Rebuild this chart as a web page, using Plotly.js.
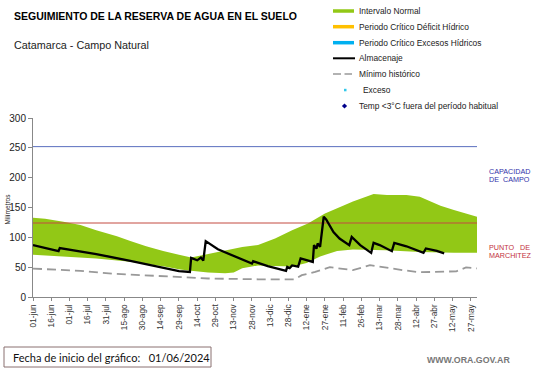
<!DOCTYPE html>
<html>
<head>
<meta charset="utf-8">
<script src="https://cdn.plot.ly/plotly-3.0.1.min.js"></script>
<style>html,body{margin:0;padding:0;background:#fff;}#chart{width:541px;height:368px;}</style>
</head>
<body>
<div id="chart"></div>
<script>
// ---- data ----
const tickDates = ['2024-06-01','2024-06-16','2024-07-01','2024-07-16','2024-07-31','2024-08-15','2024-08-30','2024-09-14','2024-09-29','2024-10-14','2024-10-29','2024-11-13','2024-11-28','2024-12-13','2024-12-28','2025-01-12','2025-01-27','2025-02-11','2025-02-26','2025-03-13','2025-03-28','2025-04-12','2025-04-27','2025-05-12','2025-05-27'];
const tickLabels = ['01-jun','16-jun','01-jul','16-jul','31-jul','15-ago','30-ago','14-sep','29-sep','14-oct','29-oct','13-nov','28-nov','13-dic','28-dic','12-ene','27-ene','11-feb','26-feb','13-mar','28-mar','12-abr','27-abr','12-may','27-may'];

const upperDates = ['2024-06-01','2024-06-11','2024-06-26','2024-07-10','2024-07-23','2024-08-09','2024-08-20','2024-09-02','2024-09-16','2024-09-30','2024-10-09','2024-10-23','2024-11-06','2024-11-20','2024-12-03','2024-12-17','2024-12-31','2025-01-13','2025-01-27','2025-02-06','2025-02-19','2025-03-08','2025-03-19','2025-04-04','2025-04-15','2025-04-23','2025-05-02','2025-05-13','2025-06-01'];
const upperVals  = [133,131,126,120.5,112,102,94,85,77,70,66,72,78.5,84,87,98,112,123,140,148.6,160,172.6,171,171,168,161,153,146,134.5];

const lowerDates = ['2024-06-01','2024-06-26','2024-07-23','2024-08-20','2024-09-16','2024-09-30','2024-10-09','2024-10-23','2024-11-06','2024-11-13','2024-11-20','2024-12-03','2024-12-17','2024-12-31','2025-01-12','2025-01-23','2025-02-06','2025-02-19','2025-03-18','2025-04-15','2025-05-13','2025-06-01'];
const lowerVals  = [71,68,64.5,59,51.6,46,44,41,40,41,48,53,52,51,57,68,77,79.6,78.5,75.6,74,74];

const minDates = ['2024-06-01','2024-07-10','2024-08-06','2024-09-02','2024-09-30','2024-10-23','2024-12-03','2025-01-02','2025-01-08','2025-01-19','2025-01-31','2025-02-14','2025-02-19','2025-03-05','2025-03-21','2025-04-01','2025-04-15','2025-05-07','2025-05-15','2025-05-23','2025-06-01'];
const minVals  = [47.7,43.7,39,36.5,33.6,31,29.7,29.7,36.5,42,50,46.5,45,53.3,48,45,41.5,42,43,49.5,48];

const almDates = ['2024-06-01','2024-06-22','2024-06-23','2024-07-23','2024-08-20','2024-09-16','2024-09-29','2024-10-08','2024-10-09','2024-10-14','2024-10-17','2024-10-19','2024-10-21','2024-10-31','2024-11-14','2024-11-28','2024-11-29','2024-12-11','2024-12-26','2024-12-27','2024-12-29','2024-12-31','2025-01-05','2025-01-07','2025-01-17','2025-01-18','2025-01-20','2025-01-21','2025-01-23','2025-01-26','2025-01-28','2025-02-03','2025-02-08','2025-02-16','2025-02-18','2025-02-25','2025-03-06','2025-03-08','2025-03-13','2025-03-23','2025-03-25','2025-04-04','2025-04-18','2025-04-20','2025-04-29','2025-05-05'];
const almVals  = [87,77,82,72,60.5,49.4,43.5,42,65.5,61.5,66,61,93.6,80,68.4,56,60,51.6,43.7,50.4,48.5,53,51,64.5,58.8,86.9,81,89.6,84,134.5,130,109,98,87,100.8,87,74,90.8,87,76.8,90.8,85,74,81.3,77.3,73];

const capacidadCampo = 252;
const puntoMarchitez = 124;
const xStart = '2024-06-01', xEnd = '2025-06-01';

// ---- helpers for page-position annotations ----
const L = 33, R = 477, T = 118, B = 297;
const px = x => (x - L) / (R - L);
const py = y => (B - y) / (B - T);

const GREEN = 'rgb(146,200,22)';

const traces = [
  { x: upperDates.concat(lowerDates.slice().reverse()),
    y: upperVals.concat(lowerVals.slice().reverse()),
    type: 'scatter', mode: 'lines', fill: 'toself', fillcolor: GREEN,
    line: {width: 0, color: GREEN}, hoverinfo: 'skip', name: 'Intervalo Normal' },
  { x: [xStart, xEnd], y: [capacidadCampo, capacidadCampo], type: 'scatter', mode: 'lines',
    line: {color: 'rgb(90,110,190)', width: 1}, name: 'Capacidad de campo' },
  { x: [xStart, xEnd], y: [puntoMarchitez, puntoMarchitez], type: 'scatter', mode: 'lines',
    line: {color: 'rgb(195,75,65)', width: 1}, name: 'Punto de marchitez' },
  { x: minDates, y: minVals, type: 'scatter', mode: 'lines',
    line: {color: '#999999', width: 1.8, dash: '9px,5px'}, name: 'Mínimo histórico' },
  { x: almDates, y: almVals, type: 'scatter', mode: 'lines',
    line: {color: '#000000', width: 2.3}, name: 'Almacenaje' }
];

const legendItems = [
  {t: 'Intervalo Normal', y: 11},
  {t: 'Periodo Crítico Déficit Hídrico', y: 26.7},
  {t: 'Periodo Crítico Excesos Hídricos', y: 42.7},
  {t: 'Almacenaje', y: 58.3},
  {t: 'Mínimo histórico', y: 74},
  {t: 'Exceso', y: 90, x: 361},
  {t: 'Temp <3°C fuera del período habitual', y: 106}
];

const annotations = [
  {text: '<b>SEGUIMIENTO DE LA RESERVA DE AGUA EN EL SUELO</b>', x: px(12), y: py(16),
   font: {family: 'Arial, Liberation Sans', size: 10.5, color: '#000'}},
  {text: 'Catamarca - Campo Natural', x: px(11.5), y: py(45),
   font: {family: 'Arial, Liberation Sans', size: 10.8, color: '#222'}},
  {text: 'Milímetros', x: px(6.5), y: py(209), textangle: -90, xanchor: 'center',
   font: {family: 'Arial, Liberation Sans', size: 6.5, color: '#222'}},
  {text: 'CAPACIDAD', x: px(486.5), y: py(171), font: {family: 'Arial, Liberation Sans', size: 7.2, color: 'rgb(50,50,170)'}},
  {text: 'DE\u00a0\u00a0CAMPO', x: px(486.5), y: py(179.5), font: {family: 'Arial, Liberation Sans', size: 7.2, color: 'rgb(50,50,170)'}},
  {text: 'PUNTO\u00a0\u00a0\u00a0DE', x: px(486.5), y: py(247), font: {family: 'Arial, Liberation Sans', size: 7.2, color: 'rgb(195,50,60)'}},
  {text: 'MARCHITEZ', x: px(486.5), y: py(255.5), font: {family: 'Arial, Liberation Sans', size: 7.2, color: 'rgb(195,50,60)'}},
  {text: 'Fecha de inicio del gráfico:\u00a0\u00a0 01/06/2024', x: px(10.5), y: py(357.5),
   font: {family: 'Lato, Liberation Sans', size: 11, color: '#111'}},
  {text: '<b>WWW.ORA.GOV.AR</b>', x: px(425), y: py(360),
   font: {family: 'Arial, Liberation Sans', size: 8.8, color: '#777'}}
];
legendItems.forEach(it => annotations.push({
  text: it.t, x: px(it.x || 357), y: py(it.y),
  font: {family: 'Arial, Liberation Sans', size: 8.4, color: '#222'}
}));
annotations.forEach(a => {
  a.xref = 'paper'; a.yref = 'paper'; a.showarrow = false;
  if (!a.xanchor) a.xanchor = 'left';
  a.yanchor = 'middle';
});

const shapes = [
  {type: 'line', x0: px(333), x1: px(354), y0: py(11), y1: py(11), line: {color: GREEN, width: 3.5}},
  {type: 'line', x0: px(333), x1: px(354), y0: py(26.7), y1: py(26.7), line: {color: '#FFC000', width: 3.5}},
  {type: 'line', x0: px(333), x1: px(354), y0: py(42.7), y1: py(42.7), line: {color: '#00B0F0', width: 3.5}},
  {type: 'line', x0: px(333), x1: px(355), y0: py(58.3), y1: py(58.3), line: {color: '#000', width: 2}},
  {type: 'line', x0: px(333), x1: px(341), y0: py(74), y1: py(74), line: {color: '#999', width: 1.5}},
  {type: 'line', x0: px(344.5), x1: px(352), y0: py(74), y1: py(74), line: {color: '#999', width: 1.5}},
  {type: 'rect', x0: px(344), x1: px(346.5), y0: py(88.8), y1: py(91.3), line: {width: 0}, fillcolor: '#33c8ea'},
  {type: 'path', path: '', line: {width: 0}, fillcolor: '#00008b'},
  {type: 'rect', x0: px(4), x1: px(211), y0: py(347), y1: py(367), line: {color: '#8a7070', width: 1}, fillcolor: 'rgba(0,0,0,0)'}
];
// diamond legend marker in paper space
(function(){
  const cx = 344.5, cy = 106, r = 2.6;
  const pts = [[cx, cy - r], [cx + r, cy], [cx, cy + r], [cx - r, cy]];
  shapes[7].path = 'M' + pts.map(p => px(p[0]) + ',' + py(p[1])).join('L') + 'Z';
})();
shapes.forEach(s => { s.xref = 'paper'; s.yref = 'paper'; });

const layout = {
  width: 541, height: 368,
  margin: {l: L, r: 541 - R, t: T, b: 368 - B, pad: 0},
  paper_bgcolor: '#fff', plot_bgcolor: '#fff',
  showlegend: false,
  xaxis: {
    type: 'date', range: [xStart, xEnd],
    tickmode: 'array', tickvals: tickDates, ticktext: tickLabels,
    tickangle: -90, ticks: 'outside', ticklen: 3, tickcolor: '#888', tickwidth: 1,
    showline: true, linecolor: '#888', linewidth: 1,
    showgrid: false, zeroline: false,
    tickfont: {family: 'Arial, Liberation Sans', size: 8.3, color: '#333'}
  },
  yaxis: {
    range: [0, 300], tickmode: 'linear', tick0: 0, dtick: 50,
    ticks: 'outside', ticklen: 4, tickcolor: '#888', tickwidth: 1,
    showline: true, linecolor: '#888', linewidth: 1,
    showgrid: false, zeroline: false,
    tickfont: {family: 'Arial, Liberation Sans', size: 10, color: '#222'}
  },
  annotations: annotations,
  shapes: shapes
};

Plotly.newPlot('chart', traces, layout, {staticPlot: true, displayModeBar: false});
</script>
</body>
</html>
